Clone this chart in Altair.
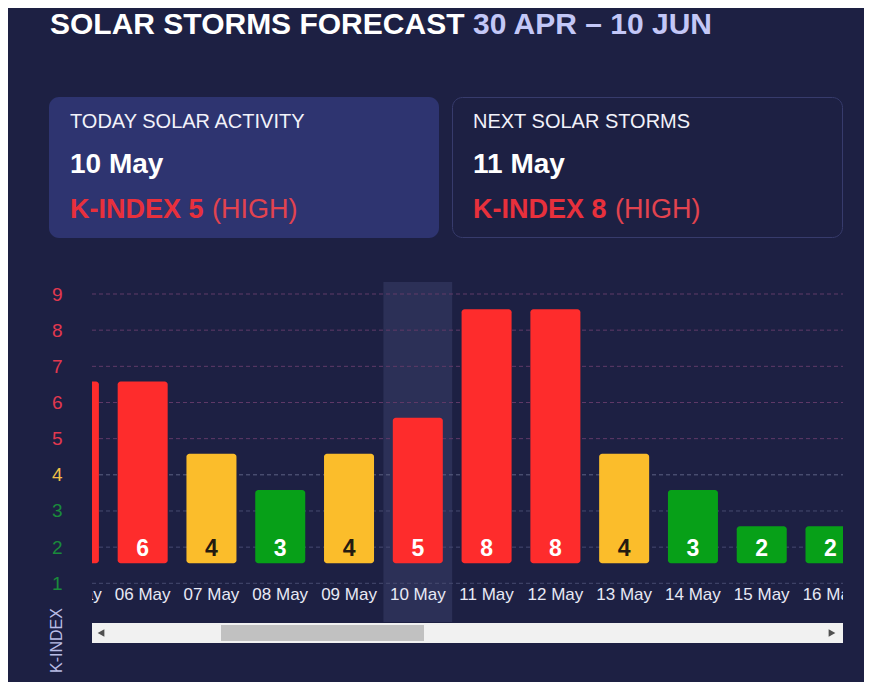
import altair as alt
import pandas as pd

# ---------------- data ----------------
dates = ["05 May", "06 May", "07 May", "08 May", "09 May", "10 May",
         "11 May", "12 May", "13 May", "14 May", "15 May", "16 May"]
kindex = [6, 6, 4, 3, 4, 5, 8, 8, 4, 3, 2, 2]
axis_ticks = [1, 2, 3, 4, 5, 6, 7, 8, 9]
today = "10 May"

title_main = "SOLAR STORMS FORECAST"
title_range = "30 APR \u2013 10 JUN"
card_titles = ["TODAY SOLAR ACTIVITY", "NEXT SOLAR STORMS"]
card_dates = ["10 May", "11 May"]
card_k = [5, 8]
card_level = ["HIGH", "HIGH"]
y_title = "K-INDEX"

# ---------------- style ----------------
FONT = "Liberation Sans"
BG = "#1d2043"
RED = "#fe2c2c"
YELLOW = "#fbbd2b"
GREEN = "#07a018"
W, H = 751, 340

df = pd.DataFrame({"date": dates, "k": kindex})
ticks_df = pd.DataFrame({"tick": axis_ticks})

x_enc = alt.X("date:N", sort=dates,
              scale=alt.Scale(domain=dates, range=[-52.5, 772.9],
                              paddingInner=0, paddingOuter=0),
              axis=None)
y_scale = alt.Scale(domain=[-0.07, 9.332], nice=False, zero=False)
y_axis = alt.Axis(
    values=axis_ticks, title=y_title, grid=False,
    labelColor=alt.ExprRef("datum.value >= 5 ? '#e2384f' : (datum.value >= 4 ? '#f2bf47' : '#1a8b3b')"),
    labelFont=FONT, labelFontSize=19, labelPadding=30,
    domain=False, ticks=False,
    titleFont=FONT, titleFontSize=16, titleFontWeight="normal",
    titleColor="#b9bde6", titleAngle=270, titleX=-36, titleY=358,
    titleAlign="center", titleBaseline="middle")

level_calc = "datum.k >= 5 ? 'high' : (datum.k >= 4 ? 'moderate' : 'low')"
color_enc = alt.Color("level:N",
                      scale=alt.Scale(domain=["high", "moderate", "low"],
                                      range=[RED, YELLOW, GREEN]),
                      legend=None)

base = alt.Chart(df).transform_calculate(level=level_calc)

# highlight of today's column
highlight = alt.Chart(df).transform_filter(
    alt.datum.date == today
).mark_rect(color="#2c3057", clip=True).encode(
    x=x_enc, y=alt.value(0), y2=alt.value(H)
)

grid = alt.Chart(ticks_df).transform_calculate(
    gc="datum.tick >= 5 ? '#603a68' : (datum.tick >= 4 ? '#5d6084' : '#464a70')"
).mark_rule(strokeDash=[4, 3], strokeWidth=1, clip=True).encode(
    y=alt.Y("tick:Q", scale=y_scale, axis=y_axis),
    x=alt.value(0), x2=alt.value(W),
    color=alt.Color("gc:N", scale=None),
)

bars = base.mark_bar(
    width=alt.RelativeBandSize(0.727), cornerRadius=3,
    yOffset=-21, y2Offset=-20, clip=True
).encode(
    x=x_enc,
    y=alt.Y("k:Q", scale=y_scale, axis=y_axis),
    y2=alt.Y2(datum=1),
    color=color_enc,
)

value_labels = base.mark_text(
    font=FONT, fontSize=23, fontWeight="bold", baseline="alphabetic",
    dy=-27, clip=True
).encode(
    x=x_enc,
    y=alt.Y(datum=1, scale=y_scale, axis=y_axis),
    text="k:Q",
    color=alt.condition("datum.k == 4", alt.value("#241b10"), alt.value("#ffffff")),
)

x_labels = alt.Chart(df).mark_text(
    font=FONT, fontSize=17, baseline="alphabetic", color="#e8e9f5", clip=True
).encode(
    x=x_enc, y=alt.value(318), text="date:N"
)


def txt(text, x, y, size, color, weight="normal"):
    return alt.Chart(alt.Data(values=[{"t": text}])).mark_text(
        align="left", baseline="alphabetic", font=FONT, fontSize=size,
        fontWeight=weight, color=color
    ).encode(x=alt.value(x), y=alt.value(y), text="t:N")


def box(x, x2, y, y2, fill, stroke=None, radius=0):
    kw = dict(cornerRadius=radius, fill=fill)
    if stroke:
        kw.update(stroke=stroke, strokeWidth=1)
    return alt.Chart(alt.Data(values=[{}])).mark_rect(**kw).encode(
        x=alt.value(x), x2=alt.value(x2), y=alt.value(y), y2=alt.value(y2)
    )


deco = [
    txt(title_main, -42, -248, 30, "#ffffff", "bold"),
    txt(title_range, 381, -248, 30, "#c3c7f7", "bold"),
    box(-43, 347, -185, -44, "#2e3470", radius=10),
    box(360.5, 750.5, -184.5, -44.5, BG, stroke="#373b6c", radius=10),
]
card_x = [-22, 381]
for i in range(2):
    cx = card_x[i]
    deco += [
        txt(card_titles[i], cx, -154, 20, "#f2f2fa"),
        txt(card_dates[i], cx, -109, 28, "#ffffff", "bold"),
        txt(f"K-INDEX {card_k[i]}", cx, -64, 27, "#e8303c", "bold"),
        txt(f"({card_level[i]})", cx + 142, -64, 27, "#e2434f"),
    ]

# scrollbar decoration
deco += [
    box(0, W, 341, 361, "#f1f1f1"),
    box(129, 332, 343, 359, "#c1c1c1"),
    alt.Chart(alt.Data(values=[{}])).mark_point(
        shape="triangle-left", filled=True, size=60, color="#505050", opacity=1
    ).encode(x=alt.value(9), y=alt.value(351)),
    alt.Chart(alt.Data(values=[{}])).mark_point(
        shape="triangle-right", filled=True, size=60, color="#505050", opacity=1
    ).encode(x=alt.value(740), y=alt.value(351)),
]

chart = alt.layer(highlight, grid, bars, value_labels, x_labels, *deco).properties(
    width=W, height=H,
    autosize=alt.AutoSizeParams(type="none"),
    padding={"left": 84, "top": 274, "right": 21, "bottom": 60},
    background=BG,
).configure_view(strokeWidth=0)

chart.save("out.html", embed_options={"renderer": "svg", "actions": False})
